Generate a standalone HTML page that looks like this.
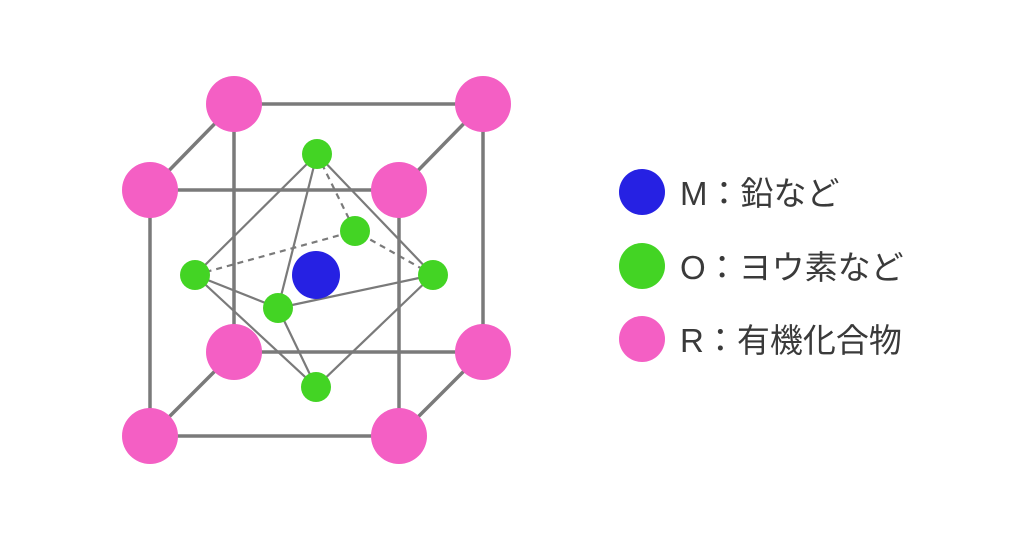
<!DOCTYPE html>
<html><head><meta charset="utf-8"><style>html,body{margin:0;padding:0;background:#fff}</style></head>
<body>
<svg width="1024" height="550" viewBox="0 0 1024 550" xmlns="http://www.w3.org/2000/svg">
<rect width="1024" height="550" fill="#fff"/>
<g stroke="#7a7a7a" stroke-width="3.5" fill="none">
<rect x="234" y="104" width="249" height="248"/>
<line x1="150" y1="190" x2="234" y2="104"/>
<line x1="399" y1="190" x2="483" y2="104"/>
<line x1="150" y1="436" x2="234" y2="352"/>
<line x1="399" y1="436" x2="483" y2="352"/>
</g>
<g stroke="#7a7a7a" stroke-width="2.2">
<line x1="317" y1="154" x2="355" y2="231" stroke-dasharray="6,5"/>
<line x1="195" y1="275" x2="355" y2="231" stroke-dasharray="6,5"/>
<line x1="433" y1="275" x2="355" y2="231" stroke-dasharray="6,5"/>
<line x1="317" y1="154" x2="195" y2="275"/>
<line x1="317" y1="154" x2="278" y2="308"/>
<line x1="317" y1="154" x2="433" y2="275"/>
<line x1="195" y1="275" x2="278" y2="308"/>
<line x1="278" y1="308" x2="433" y2="275"/>
<line x1="195" y1="275" x2="316" y2="387"/>
<line x1="278" y1="308" x2="316" y2="387"/>
<line x1="433" y1="275" x2="316" y2="387"/>
</g>
<circle cx="316" cy="275" r="24" fill="#2621e3"/>
<g fill="#43d424">
<circle cx="317" cy="154" r="15"/><circle cx="355" cy="231" r="15"/>
<circle cx="195" cy="275" r="15"/><circle cx="433" cy="275" r="15"/>
<circle cx="278" cy="308" r="15"/><circle cx="316" cy="387" r="15"/>
</g>
<g stroke="#7a7a7a" stroke-width="3.5" fill="none">
<rect x="150" y="190" width="249" height="246"/>
</g>
<g fill="#f45fc4">
<circle cx="234" cy="104" r="28"/><circle cx="483" cy="104" r="28"/>
<circle cx="234" cy="352" r="28"/><circle cx="483" cy="352" r="28"/>
<circle cx="150" cy="190" r="28"/><circle cx="399" cy="190" r="28"/>
<circle cx="150" cy="436" r="28"/><circle cx="399" cy="436" r="28"/>
</g>
<circle cx="642" cy="192" r="23" fill="#2621e3"/>
<circle cx="642" cy="266" r="23" fill="#43d424"/>
<circle cx="642" cy="339" r="23" fill="#f45fc4"/>
<g font-family="'Liberation Sans','Noto Sans CJK JP',sans-serif" font-size="33" fill="#3a3a3a">
<text x="680" y="205">M：鉛など</text>
<text x="680" y="279">O：ヨウ素など</text>
<text x="680" y="352">R：有機化合物</text>
</g>
</svg>
</body></html>
